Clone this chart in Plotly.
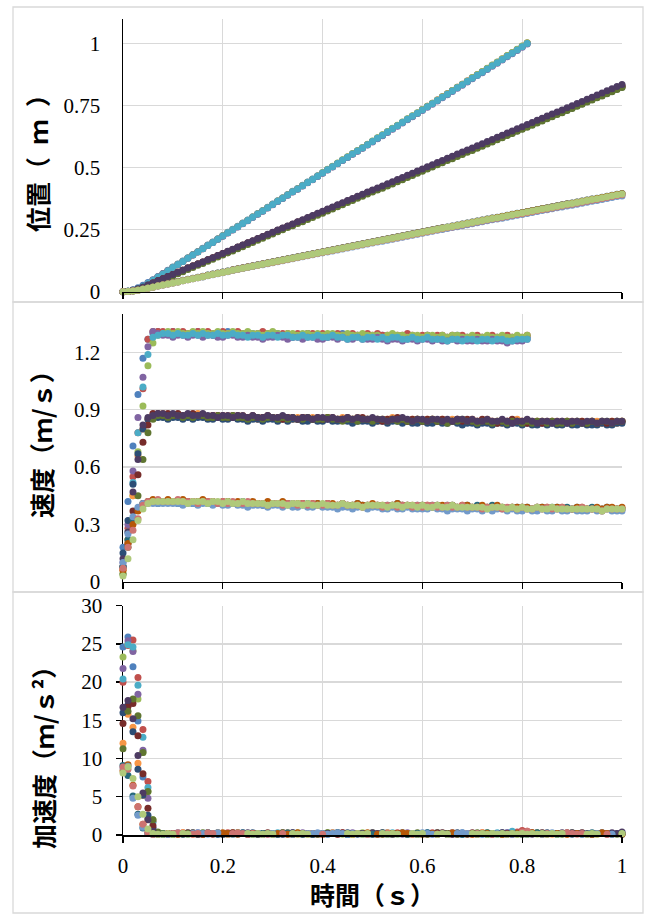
import plotly.graph_objects as go

N = None

# ---------------- time axis (s) ----------------
time_s = [0.00, 0.01, 0.02, 0.03, 0.04, 0.05, 0.06, 0.07, 0.08, 0.09,
          0.10, 0.11, 0.12, 0.13, 0.14, 0.15, 0.16, 0.17, 0.18, 0.19,
          0.20, 0.21, 0.22, 0.23, 0.24, 0.25, 0.26, 0.27, 0.28, 0.29,
          0.30, 0.31, 0.32, 0.33, 0.34, 0.35, 0.36, 0.37, 0.38, 0.39,
          0.40, 0.41, 0.42, 0.43, 0.44, 0.45, 0.46, 0.47, 0.48, 0.49,
          0.50, 0.51, 0.52, 0.53, 0.54, 0.55, 0.56, 0.57, 0.58, 0.59,
          0.60, 0.61, 0.62, 0.63, 0.64, 0.65, 0.66, 0.67, 0.68, 0.69,
          0.70, 0.71, 0.72, 0.73, 0.74, 0.75, 0.76, 0.77, 0.78, 0.79,
          0.80, 0.81, 0.82, 0.83, 0.84, 0.85, 0.86, 0.87, 0.88, 0.89,
          0.90, 0.91, 0.92, 0.93, 0.94, 0.95, 0.96, 0.97, 0.98, 0.99, 1.00]

# ---------------- position (mm) ----------------
pos_s1 = [0, 2, 8, 16, 26, 37, 48, 61, 73, 86,
          99, 112, 124, 137, 150, 162, 175, 188, 200, 213,
          226, 239, 251, 264, 277, 289, 302, 315, 327, 340,
          353, 366, 378, 391, 404, 416, 429, 442, 454, 467,
          479, 492, 504, 517, 530, 542, 555, 568, 580, 593,
          606, 619, 631, 644, 657, 669, 682, 695, 707, 720,
          733, 746, 758, 771, 784, 796, 809, 822, 834, 847,
          860, 873, 885, 898, 911, 923, 936, 949, 961, 974,
          987, 1000]
pos_s2 = [0, 1, 5, 12, 21, 33, 46, 59, 72, 85,
          97, 110, 122, 135, 148, 160, 173, 186, 198, 211,
          224, 237, 249, 262, 275, 287, 300, 313, 325, 338,
          351, 364, 376, 389, 402, 414, 427, 440, 452, 465,
          478, 491, 503, 516, 529, 541, 554, 567, 579, 592,
          605, 618, 630, 643, 656, 668, 681, 694, 706, 719,
          734, 747, 759, 772, 785, 797, 810, 823, 835, 848,
          861, 874, 886, 899, 912, 924, 937, 950, 962, 975,
          988, 1001]
pos_s3 = [0, 1, 4, 10, 20, 32, 45, 58, 70, 83,
          98, 111, 123, 136, 149, 161, 174, 187, 199, 212,
          225, 238, 250, 263, 276, 288, 301, 314, 326, 339,
          352, 365, 377, 390, 403, 415, 428, 441, 453, 466,
          480, 493, 505, 518, 531, 543, 556, 569, 581, 594,
          607, 620, 632, 645, 658, 670, 683, 696, 708, 721,
          734, 747, 759, 772, 785, 797, 810, 823, 835, 848,
          862, 875, 887, 900, 913, 925, 938, 951, 963, 976,
          989, 1002]
pos_s4 = [0, 1, 5, 12, 22, 33, 46, 59, 71, 84,
          97, 110, 122, 135, 148, 160, 173, 186, 198, 211,
          223, 236, 248, 261, 274, 286, 299, 312, 324, 337,
          350, 363, 375, 388, 401, 413, 426, 439, 451, 464,
          477, 490, 502, 515, 528, 540, 553, 566, 578, 591,
          603, 616, 628, 641, 654, 666, 679, 692, 704, 717,
          730, 743, 755, 768, 781, 793, 806, 819, 831, 844,
          857, 870, 882, 895, 908, 920, 933, 946, 958, 971,
          984, 997]
pos_s5 = [0, 1, 5, 12, 22, 33, 46, 59, 71, 84,
          97, 110, 122, 135, 148, 160, 173, 186, 198, 211,
          224, 237, 249, 262, 275, 287, 300, 313, 325, 338,
          351, 364, 376, 389, 402, 414, 427, 440, 452, 465,
          478, 491, 503, 516, 529, 541, 554, 567, 579, 592,
          605, 618, 630, 643, 656, 668, 681, 694, 706, 719,
          732, 745, 757, 770, 783, 795, 808, 821, 833, 846,
          859, 872, 884, 897, 910, 922, 935, 948, 960, 973,
          986, 999]
pos_s6 = [0, 1, 5, 10, 17, 26,
          35, 44, 52, 61, 69, 78, 86, 95, 103, 112,
          119, 128, 136, 145, 153, 162, 170, 179, 187, 196,
          203, 212, 220, 229, 237, 246, 254, 263, 271, 280,
          287, 296, 304, 313, 321, 330, 338, 347, 355, 364,
          371, 380, 388, 397, 405, 414, 422, 431, 439, 448,
          455, 464, 472, 481, 489, 498, 506, 515, 523, 532,
          539, 548, 556, 565, 573, 582, 590, 599, 607, 616,
          623, 632, 640, 649, 657, 666, 674, 683, 691, 700,
          707, 716, 724, 733, 741, 750, 758, 767, 775, 784,
          791, 800, 808, 817, 825]
pos_s7 = [0, 2, 6, 12, 19, 27,
          35, 44, 52, 61, 69, 78, 86, 95, 103, 112,
          119, 128, 136, 145, 153, 162, 170, 179, 187, 196,
          203, 212, 220, 229, 237, 246, 254, 263, 271, 280,
          287, 296, 304, 313, 321, 330, 338, 347, 355, 364,
          371, 380, 388, 397, 405, 413, 421, 430, 438, 447,
          454, 463, 471, 480, 488, 497, 505, 514, 522, 531,
          538, 547, 555, 564, 572, 581, 589, 598, 606, 615,
          622, 631, 639, 648, 656, 665, 673, 682, 690, 699,
          706, 715, 723, 732, 740, 749, 757, 766, 774, 783,
          790, 799, 807, 816, 824]
pos_s8 = [0, 1, 4, 8, 15, 23,
          35, 44, 52, 61, 69, 78, 86, 95, 103, 112, 120, 129, 137, 146, 154,
          162, 170, 179, 187, 196, 204, 213, 221, 230, 238, 247, 255, 264, 272, 281,
          288, 297, 305, 314, 322, 331, 339, 348, 356, 365, 373, 382, 390, 399, 407,
          415, 423, 432, 440, 449, 457, 466, 474, 483, 491, 500, 508, 517, 525, 534,
          541, 550, 558, 567, 575, 584, 592, 601, 609, 618, 626, 635, 643, 652, 660,
          668, 676, 685, 693, 702, 710, 719, 727, 736, 744, 753, 761, 770, 778, 787,
          794, 803, 811, 820, 828]
pos_s9 = [0, 1, 3, 7, 13, 21,
          29, 38, 46, 55, 63, 72, 80, 89, 97, 106, 114, 123, 131, 140, 148,
          156, 164, 173, 181, 190, 198, 207, 215, 224, 232, 241, 249, 258, 266, 275,
          282, 291, 299, 308, 316, 325, 333, 342, 350, 359, 367, 376, 384, 393, 401,
          409, 417, 426, 434, 443, 451, 460, 468, 477, 485, 494, 502, 511, 519, 528,
          535, 544, 552, 561, 569, 578, 586, 595, 603, 612, 620, 629, 637, 646, 654,
          662, 670, 679, 687, 696, 704, 713, 721, 730, 738, 747, 755, 764, 772, 781,
          788, 797, 805, 814, 822]
pos_s10 = [0, 2, 6, 11, 18, 27,
           35, 44, 52, 61, 69, 78, 86, 95, 103, 112,
           120, 129, 137, 146, 154, 163, 171, 180, 188, 197,
           205, 214, 222, 231, 239, 248, 256, 265, 273, 282,
           290, 299, 307, 316, 324, 333, 341, 350, 358, 367,
           375, 384, 392, 401, 409, 418, 426, 435, 443, 452,
           460, 469, 477, 486, 494, 503, 511, 520, 528, 537,
           545, 554, 562, 571, 579, 588, 596, 605, 613, 622,
           630, 639, 647, 656, 664, 673, 681, 690, 698, 707,
           715, 724, 732, 741, 749, 758, 766, 775, 783, 792,
           800, 809, 817, 826, 834]
pos_s11 = [0, 2, 5, 8, 12,
           16, 20, 25, 29, 33, 37, 41, 46, 50, 54, 58, 62, 67, 71, 75, 79, 83, 88, 92, 96,
           100, 104, 109, 113, 117, 121,
           125, 129, 133, 137, 141, 145, 149, 153, 157, 161, 165, 169, 173, 177, 181, 185,
           189, 193, 197, 201, 205, 209, 213, 217, 221, 225, 229, 233, 237, 241, 245, 249,
           253, 257, 261, 265, 269, 273, 277, 281,
           285, 289, 293, 297, 300, 304, 308, 312, 316, 319, 323, 327, 331, 335, 338, 342,
           346, 350, 354, 357, 361, 365, 369, 373, 376, 380, 384, 388, 392, 395]
pos_s12 = [0, 1, 4, 7, 11,
           15, 19, 24, 28, 32, 36, 40, 45, 49, 53, 57, 61, 66, 70, 74, 78, 82, 87, 91, 95,
           99, 103, 108, 112, 116, 120,
           124, 128, 132, 136, 140, 144, 148, 152, 156, 160, 164, 168, 172, 176, 180, 184,
           188, 192, 196, 200, 204, 208, 212, 216, 220, 224, 228, 232, 236, 240, 244, 248,
           252, 256, 260, 264, 268, 272, 276, 280,
           284, 288, 292, 296, 299, 303, 307, 311, 315, 318, 322, 326, 330, 334, 337, 341,
           345, 349, 353, 356, 360, 364, 368, 372, 375, 379, 383, 387, 391, 394]
pos_s13 = [0, 1, 3, 6, 10,
           14, 18, 23, 27, 31, 35, 39, 44, 48, 52, 56,
           59, 64, 68, 72, 76, 80, 85, 89, 93, 97, 101, 106,
           109, 113, 117, 121, 125, 129, 133, 137, 141, 145, 149, 153,
           156, 160, 164, 168, 172, 176, 180, 184, 188, 192, 196, 200,
           203, 207, 211, 215, 219, 223, 227, 231, 235, 239, 243, 247,
           250, 254, 258, 262, 266, 270, 274, 278, 282, 286, 290, 293,
           296, 300, 304, 308, 311, 315, 319, 323, 327, 330, 334, 338,
           341, 345, 348, 352, 356, 360, 364, 367, 371, 375, 379, 383,
           385]
pos_s14 = [0, 1, 3, 6, 10,
           14, 18, 23, 27, 31, 35, 39, 44, 48, 52, 56, 60, 65, 69, 73, 77, 81, 86, 90, 94,
           98, 102, 107, 111,
           114, 118, 122, 126, 130, 134, 138, 142, 146, 150, 154, 158, 162, 166, 170, 174,
           178, 182, 186, 190, 194, 198, 202, 206, 210,
           213, 217, 221, 225, 229, 233, 237, 241, 245, 249, 253, 257, 261, 265, 269, 273,
           277, 281, 285, 289, 293, 296, 300, 304, 308,
           311, 314, 318, 322, 326, 330, 333, 337, 341, 345, 349, 352, 356, 360, 364, 368,
           371, 375, 379, 383, 387, 390]
pos_s15 = [0, 1, 3, 6, 10,
           14, 18, 23, 27, 31, 35, 39, 44, 48, 52, 56, 60, 65, 69, 73, 77, 81, 86, 90, 94,
           98, 102, 107, 111, 115, 119,
           123, 127, 131, 135, 139, 143, 147, 151, 155, 159, 163, 167, 171, 175, 179, 183,
           187, 191, 195, 199, 203, 207, 211, 215, 219, 223, 227, 231, 235, 239, 243, 247,
           251, 255, 259, 263, 267, 271, 275, 279,
           283, 287, 291, 295, 298, 302, 306, 310, 314, 317, 321, 325, 329, 333, 336, 340,
           344, 348, 352, 355, 359, 363, 367, 371, 374, 378, 382, 386, 390, 393]

# ---------------- velocity (cm/s) ----------------
vel_s1 = [18, 42, 71, 98, 117, 127, 130, 131, 130, 130,
          131, 130, 130, 129, 130, 131, 130, 130, 129, 130,
          130, 131, 130, 129, 129, 130, 130, 129, 130, 129,
          129, 130, 129, 129, 128, 129, 129, 130, 129, 129,
          129, 128, 129, 129, 130, 129, 128, 129, 129, 128,
          128, 129, 129, 128, 129, 128, 128, 129, 128, 128,
          128, 129, 128, 128, 127, 128, 128, 129, 128, 128,
          127, 128, 128, 127, 128, 128, 127, 128, 128, 127,
          127, 128]
vel_s2 = [7, 28, 55, 78, 101, 127, 131, 131, 131, 130,
          131, 130, 131, 130, 130, 131, 130, 131, 130, 130,
          131, 130, 130, 131, 130, 130, 129, 130, 131, 130,
          130, 129, 130, 130, 129, 130, 129, 130, 130, 129,
          130, 129, 129, 130, 129, 129, 130, 129, 129, 130,
          129, 130, 129, 129, 128, 129, 129, 130, 129, 128,
          129, 129, 128, 129, 129, 128, 129, 128, 129, 128,
          128, 129, 128, 128, 129, 128, 128, 129, 128, 128,
          128, 129]
vel_s3 = [4, 22, 45, 68, 92, 113, 125, 129, 130, 131,
          130, 131, 130, 130, 131, 130, 131, 130, 130, 131,
          130, 130, 131, 130, 130, 131, 130, 130, 129, 130,
          131, 130, 129, 130, 130, 129, 130, 130, 129, 130,
          129, 130, 130, 129, 129, 130, 129, 129, 130, 129,
          129, 129, 128, 129, 130, 129, 129, 128, 129, 129,
          128, 129, 129, 128, 129, 128, 129, 129, 128, 128,
          129, 128, 128, 129, 128, 128, 129, 128, 128, 129,
          128, 129]
vel_s4 = [10, 30, 58, 86, 107, 123, 131, 130, 129, 129,
          128, 129, 129, 128, 129, 129, 128, 129, 129, 128,
          128, 129, 129, 128, 128, 129, 128, 128, 127, 128,
          128, 129, 128, 127, 128, 128, 127, 128, 128, 127,
          127, 128, 128, 127, 128, 127, 127, 128, 127, 127,
          127, 128, 127, 126, 127, 127, 126, 127, 127, 126,
          127, 127, 126, 127, 126, 126, 127, 126, 127, 126,
          126, 127, 126, 126, 127, 126, 126, 125, 126, 126,
          126, 127]
vel_s5 = [8, 26, 52, 78, 102, 119, 128, 129, 130, 130,
          129, 130, 129, 129, 130, 129, 130, 129, 129, 130,
          129, 129, 130, 129, 129, 128, 129, 129, 128, 129,
          129, 128, 129, 129, 128, 128, 129, 128, 128, 129,
          128, 128, 129, 128, 128, 127, 128, 128, 127, 128,
          128, 127, 128, 127, 128, 128, 127, 127, 128, 127,
          127, 128, 127, 127, 127, 126, 127, 127, 126, 127,
          127, 126, 127, 127, 126, 127, 127, 126, 126, 127,
          127, 127]
vel_s6 = [6, 22, 45, 66, 80, 85, 87, 87, 88, 87,
          87, 87, 86, 87, 87, 88, 87, 86, 87, 87,
          86, 87, 86, 86, 87, 86, 86, 85, 86, 86,
          86, 85, 86, 86, 85, 86, 86, 85, 86, 85,
          85, 86, 85, 85, 86, 85, 85, 86, 85, 85,
          85, 84, 85, 85, 86, 85, 85, 84, 85, 85,
          84, 85, 85, 84, 85, 84, 85, 85, 84, 84,
          85, 84, 84, 85, 84, 84, 83, 84, 84, 85,
          84, 84, 83, 84, 84, 83, 84, 84, 83, 84,
          84, 83, 84, 83, 84, 84, 83, 83, 84, 83,
          84]
vel_s7 = [15, 32, 51, 67, 80, 85, 86, 86, 86, 85,
          86, 86, 85, 86, 85, 86, 86, 85, 85, 86,
          85, 85, 86, 85, 85, 84, 85, 85, 84, 85,
          85, 84, 85, 84, 85, 85, 84, 84, 85, 84,
          84, 85, 84, 84, 85, 84, 83, 84, 84, 84,
          83, 84, 84, 83, 84, 84, 83, 84, 83, 83,
          84, 83, 83, 84, 83, 83, 84, 83, 82, 83,
          83, 82, 83, 83, 82, 83, 83, 82, 83, 83,
          82, 83, 82, 82, 83, 82, 83, 82, 82, 83,
          82, 82, 83, 82, 82, 82, 83, 82, 82, 83,
          83]
vel_s8 = [8, 20, 37, 56, 73, 82, 88, 88, 87, 88,
          87, 88, 87, 87, 88, 87, 87, 86, 87, 87,
          87, 86, 87, 87, 86, 86, 87, 86, 86, 87,
          86, 86, 85, 86, 86, 85, 86, 86, 85, 86,
          85, 86, 86, 85, 85, 86, 85, 85, 86, 85,
          85, 85, 84, 85, 85, 86, 85, 84, 85, 85,
          84, 85, 85, 84, 85, 84, 84, 85, 84, 85,
          84, 84, 85, 84, 84, 83, 84, 84, 85, 84,
          84, 83, 84, 84, 83, 84, 84, 83, 84, 84,
          83, 84, 84, 83, 84, 83, 84, 83, 84, 84,
          84]
vel_s9 = [4, 18, 33, 45, 64, 78, 85, 87, 87, 86,
          87, 87, 86, 87, 86, 87, 87, 86, 86, 87,
          86, 86, 87, 86, 86, 85, 86, 86, 85, 86,
          86, 85, 86, 85, 86, 85, 85, 86, 85, 85,
          85, 86, 85, 85, 84, 85, 85, 84, 85, 85,
          84, 85, 85, 84, 85, 84, 85, 84, 84, 85,
          84, 84, 85, 84, 84, 83, 84, 84, 85, 84,
          84, 83, 84, 84, 83, 84, 84, 83, 84, 84,
          83, 84, 83, 84, 84, 83, 84, 83, 83, 84,
          83, 84, 83, 83, 84, 83, 84, 84, 83, 84,
          84]
vel_s10 = [12, 26, 47, 64, 82, 86, 87, 88, 88, 87,
           88, 87, 87, 88, 87, 87, 88, 87, 87, 86,
           87, 87, 86, 87, 87, 86, 87, 86, 86, 87,
           86, 86, 87, 86, 86, 85, 86, 86, 85, 86,
           86, 85, 86, 85, 85, 86, 85, 86, 85, 85,
           86, 85, 85, 84, 85, 85, 86, 85, 84, 85,
           85, 84, 85, 85, 84, 85, 84, 85, 85, 84,
           85, 84, 84, 85, 84, 84, 85, 84, 83, 84,
           84, 85, 84, 83, 84, 84, 83, 84, 84, 83,
           84, 84, 83, 84, 84, 83, 84, 84, 83, 84,
           84]
vel_s11 = [8, 22, 32, 38, 41, 42, 42, 41, 42, 42,
           42, 41, 42, 42, 41, 42, 42, 41, 42, 41,
           41, 42, 41, 41, 42, 41, 41, 41, 40, 41,
           41, 41, 40, 41, 41, 40, 41, 41, 40, 41,
           40, 41, 40, 40, 41, 40, 40, 41, 40, 40,
           40, 40, 39, 40, 40, 41, 40, 40, 39, 40,
           40, 39, 40, 40, 39, 40, 40, 39, 39, 40,
           39, 40, 39, 39, 40, 39, 39, 38, 39, 39,
           39, 39, 38, 39, 39, 38, 39, 39, 38, 39,
           38, 39, 38, 38, 39, 38, 38, 39, 38, 38,
           38]
vel_s12 = [6, 20, 30, 37, 41, 42, 43, 42, 42, 43,
           42, 42, 43, 42, 42, 42, 43, 42, 42, 41,
           42, 42, 41, 42, 41, 41, 42, 41, 41, 42,
           41, 41, 42, 41, 40, 41, 41, 40, 41, 41,
           40, 41, 41, 40, 41, 40, 40, 41, 40, 40,
           41, 40, 40, 39, 40, 41, 40, 40, 40, 39,
           40, 40, 39, 40, 40, 39, 40, 39, 40, 40,
           39, 39, 40, 39, 39, 40, 39, 38, 39, 39,
           39, 39, 38, 39, 39, 39, 38, 39, 39, 38,
           38, 39, 39, 38, 38, 39, 38, 39, 39, 38,
           39]
vel_s13 = [10, 25, 34, 39, 41, 41, 41, 41, 41, 41,
           41, 41, 40, 41, 41, 40, 41, 41, 40, 41,
           40, 40, 41, 40, 40, 39, 40, 40, 40, 39,
           40, 40, 39, 40, 39, 39, 40, 39, 39, 40,
           39, 39, 39, 38, 39, 39, 38, 39, 39, 38,
           39, 39, 38, 38, 39, 38, 38, 39, 38, 38,
           38, 38, 39, 38, 38, 37, 38, 38, 38, 37,
           38, 38, 37, 38, 37, 38, 38, 37, 38, 37,
           37, 38, 37, 37, 38, 37, 37, 38, 37, 37,
           38, 37, 37, 37, 38, 37, 37, 38, 37, 37,
           37]
vel_s14 = [7, 18, 27, 33, 40, 42, 42, 43, 42, 42,
           42, 43, 42, 42, 42, 41, 42, 42, 42, 41,
           42, 41, 42, 41, 41, 42, 41, 41, 41, 40,
           41, 41, 40, 41, 41, 40, 41, 40, 41, 40,
           40, 41, 40, 40, 41, 40, 40, 40, 39, 40,
           40, 40, 39, 40, 40, 39, 40, 40, 39, 40,
           39, 40, 40, 39, 39, 40, 39, 39, 40, 39,
           39, 39, 38, 39, 39, 39, 38, 39, 39, 38,
           39, 38, 38, 39, 38, 39, 38, 38, 39, 38,
           38, 38, 39, 38, 38, 38, 37, 38, 38, 38,
           38]
vel_s15 = [3, 12, 22, 32, 38, 41, 42, 42, 42, 42,
           42, 42, 42, 41, 42, 42, 42, 41, 42, 42,
           41, 42, 41, 41, 42, 41, 41, 41, 41, 40,
           41, 41, 41, 40, 41, 41, 40, 41, 40, 40,
           41, 40, 40, 40, 41, 40, 40, 40, 39, 40,
           40, 40, 40, 39, 40, 40, 39, 40, 40, 39,
           40, 39, 39, 40, 39, 39, 40, 39, 39, 39,
           39, 39, 39, 38, 39, 39, 39, 38, 39, 38,
           39, 38, 38, 39, 38, 38, 39, 38, 38, 38,
           38, 38, 38, 38, 38, 38, 37, 38, 38, 38,
           38]

# ---------------- acceleration (0.1 m/s^2; None = below axis) ----------------
acc_s1 = [246, 259, 220, 149, 76, 22, 4, 1,
          2, N, 1, 3, N, N, 2, 1, N, 2,
          N, 1, 2, N, 3, 1, N, N, 2, 1,
          N, 2, N, 1, 3, N, 2, N, 1, N,
          2, 1, N, N, 3, 2, N, 1, N, 2,
          N, 1, 2, N, N, 3, 1, N, 2, N,
          1, N, 2, 3, N, 1, N, 2, N, 1,
          3, N, N, 2, 1, N, 2, N, 1, 3,
          N, 2, 1, N]
acc_s2 = [200, 248, 255, 206, 138, 70, 18, 3,
          N, 2, 1, N, 3, 2, N, 1, N, N,
          2, N, 1, 3, N, 2, N, 1, N, 2,
          1, N, N, 2, 3, N, 1, N, 2, N,
          N, 1, 2, N, N, 1, 3, N, 2, N,
          1, N, 2, N, 1, N, N, 3, 2, N,
          N, 2, 1, N, 3, N, 2, N, N, 1,
          2, N, 1, N, 3, 2, N, N, 1, 2,
          N, 4, 6, 5]
acc_s3 = [233, 250, 241, 178, 108, 57, 20, 3,
          1, N, N, 2, 1, N, 3, N, 2, N,
          N, 2, N, 1, N, 3, 2, N, N, 1,
          2, N, 1, N, 2, N, N, 3, 1, N,
          1, N, 2, 3, N, N, 1, 2, N, N,
          3, 1, N, N, 2, N, 1, N, N, 2,
          N, 1, N, 2, N, 3, N, 1, 2, N,
          N, 1, 2, N, N, 3, N, 2, N, 1,
          2, N, 1, 2]
acc_s4 = [218, 254, 240, 184, 111, 48, 10, 2,
          N, 1, 2, N, N, 2, N, 3, 1, N,
          2, N, N, 1, 2, N, 3, N, N, 2,
          N, 1, N, 2, N, 1, N, 2, 3, N,
          2, N, 1, N, 2, N, N, 1, 3, N,
          N, 2, N, 1, N, N, 2, N, 1, 3,
          1, N, N, 2, 1, N, 2, N, 3, N,
          N, 2, N, 1, N, 2, 1, N, N, 3,
          1, N, 2, N]
acc_s5 = [204, 249, 246, 196, 128, 62, 16, 3,
          2, N, 1, N, 2, 3, N, N, 1, 2,
          N, 3, N, 1, N, 2, N, 2, 1, N,
          2, N, N, 3, 1, N, 2, N, N, 1,
          N, 2, 1, N, N, 3, N, 1, 2, N,
          1, N, N, 2, N, 1, 3, N, N, 2,
          N, N, 1, 2, N, 3, N, 1, N, 2,
          1, N, 2, N, N, 1, N, 3, 2, N,
          5, 2, N, 1]
acc_s6 = [120, 158, 141, 94, 52, 20, 4, 1,
          N, 1, 2, N, 3, N, 1, N, 2, N,
          2, N, N, 1, 3, N, 2, N, 1, N,
          N, 2, 1, N, N, 3, N, 2, N, 1,
          2, N, 1, N, 3, N, N, 2, 1, N,
          N, 1, N, 2, N, 3, 1, N, N, 2,
          1, N, 2, N, N, 1, 3, N, 2, N,
          N, 2, N, 1, 3, N, N, 2, N, 1,
          2, N, 1, N, N, 2, 3, N, 1, N,
          N, 1, 2, N, 3, N, N, 1, 2, N,
          1, N, 2]
acc_s7 = [160, 170, 135, 86, 52, 26, 8, 2,
          1, N, N, 2, 1, N, 2, N, N, 3,
          N, 1, 2, N, N, 2, N, 1, 3, N,
          2, N, 1, N, 2, N, 3, N, 1, N,
          N, 2, N, 1, N, 2, N, 3, N, 1,
          2, N, N, 1, 2, N, 1, N, 3, N,
          N, 1, N, 2, N, N, 2, 1, N, 3,
          1, N, 2, N, N, 1, N, 2, 3, N,
          N, 2, N, 1, 2, N, N, 3, N, 1,
          2, N, 1, N, N, 2, 1, N, 3, N,
          N, 2, 1]
acc_s8 = [146, 168, 172, 130, 80, 35, 12, 2,
          N, 2, N, 1, N, 3, 2, N, 1, N,
          1, N, 2, N, 3, N, N, 1, 2, N,
          N, 3, N, 1, N, 2, 1, N, N, 2,
          1, N, N, 2, N, 1, 3, N, 2, N,
          N, 2, 1, N, 3, N, N, 2, N, 1,
          2, N, N, 1, N, 3, N, 2, 1, N,
          N, 1, 3, N, 2, N, 1, N, N, 2,
          1, N, 2, N, 3, N, N, 1, 2, N,
          N, 3, N, 2, N, 1, N, 2, N, 1,
          2, N, N]
acc_s9 = [113, 162, 178, 156, 108, 57, 20, 4,
          2, N, 1, N, N, 2, N, 1, 3, N,
          N, 2, N, N, 1, 3, N, 2, N, 1,
          1, N, 2, N, 3, N, 1, N, 2, N,
          N, 1, N, 3, N, 2, N, N, 1, 2,
          2, N, 3, N, 1, N, 2, N, N, 1,
          N, 3, N, 1, 2, N, N, 2, N, 1,
          2, N, N, 3, N, 1, 2, N, 1, N,
          N, 1, N, 2, N, 3, 1, N, N, 2,
          1, N, 3, N, 2, N, 1, N, 2, N,
          N, 1, N]
acc_s10 = [167, 176, 152, 104, 55, 20, 5, 1,
           N, 1, N, 2, N, N, 3, 1, N, N,
           2, N, 1, N, N, 2, N, 3, N, 1,
           N, 2, N, N, 1, N, 3, N, 2, N,
           1, N, N, 2, N, 3, N, 1, N, N,
           2, N, 3, 2, N, 1, N, N, 2, N,
           N, 1, N, N, 2, N, 3, N, 1, N,
           2, N, N, 1, N, 2, N, N, 3, 1,
           N, N, 2, N, 1, N, 3, N, N, 2,
           3, 2, 3, 2, 3, N, 1, N, N, 2,
           3, 2, 4]
acc_s11 = [91, 78, 51, 27, 9, 2, 1, N,
           1, N, 2, N, N, 1, N, 2, N, 3,
           N, N, 1, 2, N, N, 3, N, 1, N,
           2, N, N, 1, N, 3, N, 2, N, N,
           1, N, 2, N, N, 3, N, 1, N, 2,
           N, N, 1, N, 3, N, 2, N, N, 1,
           N, 2, N, 3, N, 1, N, N, 2, N,
           1, N, N, 2, N, 3, N, 1, N, N,
           2, N, 1, N, N, 3, N, 2, N, 1,
           N, 2, N, N, 1, N, 3, N, 2, N,
           1, N, 2]
acc_s12 = [84, 92, 65, 37, 14, 3, 1, N,
           N, 2, N, 1, N, N, 2, N, 1, N,
           N, 3, 3, 2, N, 1, N, N, 2, N,
           1, N, N, 2, N, 1, N, 3, N, N,
           2, N, 1, N, N, 2, N, N, 1, N,
           N, 3, N, 1, N, N, 2, 2, 3, 2,
           N, N, 1, N, 2, N, N, 1, 3, 2,
           2, N, 1, N, N, 2, N, N, 1, N,
           N, 2, N, N, 3, N, 1, N, N, 2,
           N, 1, N, 2, N, N, 1, 2, 3, 2,
           N, N, 1]
acc_s13 = [88, 90, 48, 26, 10, 2, 1, N,
           N, 1, N, N, 2, N, 2, 3, 2, 1,
           2, 3, N, N, 1, N, N, 2, N, N,
           1, N, 2, N, N, N, 1, N, N, 2,
           2, 3, 2, 1, 2, 3, 2, 1, 2, N,
           N, 1, N, N, 2, N, N, 1, N, N,
           2, N, 3, 2, 1, N, N, 1, N, 2,
           3, 2, N, N, 1, N, N, 2, N, N,
           1, N, N, 2, N, N, 1, N, 3, N,
           N, 2, N, N, 1, N, N, 2, N, N,
           1, N, N]
acc_s14 = [89, 86, 64, 37, 14, 3, 1, N,
           N, N, 2, 3, 2, N, 1, 2, N, 3,
           2, N, N, N, 2, 3, 2, 1, 2, N,
           N, 1, N, N, 2, N, N, 1, N, N,
           N, N, 1, N, N, N, N, N, N, 2,
           N, 1, N, N, N, 2, N, N, N, N,
           N, N, N, N, N, 1, N, N, N, N,
           N, N, N, 2, N, N, 1, N, N, N,
           N, N, 4, 5, N, N, N, 2, N, N,
           2, 3, 2, 1, 2, N, N, N, N, 1,
           N, N, N]
acc_s15 = [81, 89, 74, 50, 27, 8, 2, 1,
           1, 2, 1, N, 2, 1, N, N, N, N,
           N, N, N, N, N, N, N, 2, 1, 2,
           1, 2, 1, N, N, N, 2, 1, 2, 1,
           N, N, N, N, N, N, N, 2, 1, 2,
           1, 2, N, N, 2, 1, 2, 1, N, N,
           2, 1, 2, N, N, 1, 2, 1, N, N,
           N, N, 2, 1, 2, 1, 2, 1, 2, 1,
           2, 1, 2, 1, 2, 1, 2, 1, 2, 1,
           2, N, N, N, N, 1, 2, 1, N, N,
           N, N, 2]

# ---------------- series styling (Excel Office palette) ----------------
series_colors = ["#4F81BD", "#C0504D", "#9BBB59", "#8064A2", "#4BACC6",
                 "#F79646", "#2C4D75", "#772C2A", "#5F7530", "#4D3B62",
                 "#276A7C", "#B65708", "#729ACA", "#CD7371", "#AFC97A"]
pos_all = [pos_s1, pos_s2, pos_s3, pos_s4, pos_s5, pos_s6, pos_s7, pos_s8,
           pos_s9, pos_s10, pos_s11, pos_s12, pos_s13, pos_s14, pos_s15]
vel_all = [vel_s1, vel_s2, vel_s3, vel_s4, vel_s5, vel_s6, vel_s7, vel_s8,
           vel_s9, vel_s10, vel_s11, vel_s12, vel_s13, vel_s14, vel_s15]
acc_all = [acc_s1, acc_s2, acc_s3, acc_s4, acc_s5, acc_s6, acc_s7, acc_s8,
           acc_s9, acc_s10, acc_s11, acc_s12, acc_s13, acc_s14, acc_s15]

W, H = 645, 914


def fx(px):
    return px / W


def fy(py):
    return 1 - py / H


def scaled(vals, k):
    return [None if v is None else v / k for v in vals]


fig = go.Figure()
for col, p, v, a in zip(series_colors, pos_all, vel_all, acc_all):
    mk = dict(size=7, color=col, line=dict(width=0))
    fig.add_trace(go.Scatter(x=time_s[:len(p)], y=scaled(p, 1000), mode="markers",
                             marker=mk, xaxis="x", yaxis="y", cliponaxis=False,
                             showlegend=False))
    fig.add_trace(go.Scatter(x=time_s[:len(v)], y=scaled(v, 100), mode="markers",
                             marker=mk, xaxis="x2", yaxis="y2", cliponaxis=False,
                             showlegend=False))
    fig.add_trace(go.Scatter(x=time_s[:len(a)], y=scaled(a, 10), mode="markers",
                             marker=mk, xaxis="x3", yaxis="y3", cliponaxis=False,
                             showlegend=False))

GRID = "#D9D9D9"
SERIF = "Liberation Serif, Times New Roman, Tinos, DejaVu Serif, serif"
tick_font = dict(family=SERIF, size=21, color="#000000")
title_font = dict(family="Noto Sans CJK JP", size=25, color="#000000", weight="bold")
xdom = [fx(123), fx(622)]

xcommon = dict(range=[0, 1], tickvals=[0, 0.2, 0.4, 0.6, 0.8, 1],
               ticktext=["0", "0.2", "0.4", "0.6", "0.8", "1"],
               showgrid=True, gridcolor=GRID, gridwidth=1.3, zeroline=False,
               showline=True, linecolor="#000000", linewidth=1.5,
               ticks="outside", ticklen=6, tickwidth=1.3, tickcolor="#000000",
               tickfont=tick_font, domain=xdom, fixedrange=True, automargin=False)
ycommon = dict(showgrid=True, gridcolor=GRID, gridwidth=1.3, zeroline=False,
               showline=True, linecolor="#000000", linewidth=1.5,
               tickfont=tick_font, layer="below traces", fixedrange=True,
               automargin=False)

fig.update_layout(
    template="none",
    width=W, height=H, margin=dict(l=0, r=0, t=0, b=0, autoexpand=False),
    paper_bgcolor="white", plot_bgcolor="white", showlegend=False,
    font=dict(family=SERIF, color="#000000"),
    xaxis=dict(xcommon, anchor="y", showticklabels=False),
    xaxis2=dict(xcommon, anchor="y2", showticklabels=False),
    xaxis3=dict(xcommon, anchor="y3", showticklabels=True, ticklabelstandoff=5),
    yaxis=dict(ycommon, anchor="x", domain=[fy(291.7), fy(18.5)], range=[0, 1.1],
               tickvals=[0, 0.25, 0.5, 0.75, 1], ticktext=["0", "0.25", "0.5", "0.75", "1"],
               ticks="", ticklabelstandoff=17),
    yaxis2=dict(ycommon, anchor="x2", domain=[fy(581.7), fy(314.3)], range=[0, 1.4],
                tickvals=[0, 0.3, 0.6, 0.9, 1.2], ticktext=["0", "0.3", "0.6", "0.9", "1.2"],
                ticks="", ticklabelstandoff=17),
    yaxis3=dict(ycommon, anchor="x3", domain=[fy(835), fy(605.7)], range=[0, 30],
                tickvals=[0, 5, 10, 15, 20, 25, 30],
                ticktext=["0", "5", "10", "15", "20", "25", "30"],
                ticks="outside", ticklen=6, tickwidth=1.3, tickcolor="#000000",
                ticklabelstandoff=9),
)

# chart-area borders
for top, bot in [(7, 302), (302, 592), (592, 913)]:
    fig.add_shape(type="rect", xref="paper", yref="paper",
                  x0=fx(13), x1=fx(643), y0=fy(bot), y1=fy(top),
                  line=dict(color=GRID, width=1.3), fillcolor="rgba(0,0,0,0)",
                  layer="below")

titles = [("位置（\u2002ｍ\u2002）", 37, 157), ("速度（ｍ/ｓ）", 41, 438),
          ("加速度（ｍ/ｓ²）", 43, 752)]
for txt, x, y in titles:
    fig.add_annotation(text=txt, xref="paper", yref="paper", x=fx(x), y=fy(y),
                       xanchor="center", yanchor="middle", textangle=-90,
                       showarrow=False, font=title_font)
fig.add_annotation(text="時間（ｓ）", xref="paper", yref="paper", x=fx(372), y=fy(894),
                   xanchor="center", yanchor="middle", showarrow=False, font=title_font)

fig.write_html(
    "out.html",
    config={"displayModeBar": False, "staticPlot": True},
    post_script="document.documentElement.style.margin='0';"
                "document.body.style.margin='0';"
                "document.body.style.overflow='hidden';",
)
